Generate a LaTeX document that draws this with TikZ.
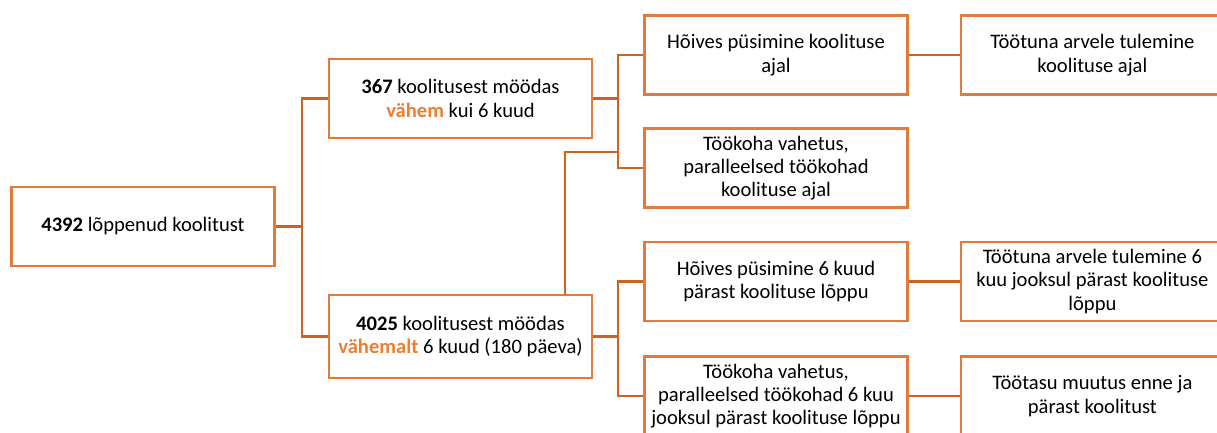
\documentclass[tikz,border=0pt]{standalone}
\usepackage{fontspec}
\setmainfont{Carlito}
\usetikzlibrary{positioning}

\definecolor{boxorange}{HTML}{E27A3B}
\definecolor{lineorange}{HTML}{CB6422}
\definecolor{wordorange}{HTML}{ED7D31}

\begin{document}
\begin{tikzpicture}[x=1pt, y=-1pt,
    box/.style={draw=boxorange, line width=2.4pt, minimum width=263pt,
        minimum height=79pt, align=center, inner sep=1pt,
        font=\fontsize{20.6}{23.3}\selectfont},
    link/.style={draw=lineorange, line width=2.6pt}]

    % Page frame (the picture is cut off at right and bottom)
    \useasboundingbox (0,0) rectangle (1217,433);
    \clip (0,0) rectangle (1217,433);

    % Root and the two duration groups
    \node[box] (root) at (143,226.5) {\textbf{4392} lõppenud koolitust};
    \node[box] (less) at (460.5,98.5) {\textbf{367} koolitusest möödas\\
        \textcolor{wordorange}{\textbf{vähem}} kui 6 kuud};
    \node[box, minimum height=83pt] (more) at (460.5,336.5) {\textbf{4025} koolitusest möödas\\
        \textcolor{wordorange}{\textbf{vähemalt}} 6 kuud (180 päeva)};

    % Third column
    \node[box] (hoiA) at (776,55) {Hõives püsimine koolituse\\ ajal};
    \node[box] (vahB) at (776,168) {Töökoha vahetus,\\ paralleelsed töökohad\\ koolituse ajal};
    \node[box] (hoiC) at (776,281.5) {Hõives püsimine 6 kuud\\ pärast koolituse lõppu};
    \node[box] (vahD) at (776,396) {Töökoha vahetus,\\ paralleelsed töökohad 6 kuu\\ jooksul pärast koolituse lõppu};

    % Fourth column
    \node[box, right=51pt of hoiA] (arvE) {Töötuna arvele tulemine\\ koolituse ajal};
    \node[box, right=51pt of hoiC] (arvF) {Töötuna arvele tulemine 6\\ kuu jooksul pärast koolituse\\ lõppu};
    \node[box, right=51pt of vahD] (tasuG) {Töötasu muutus enne ja\\ pärast koolitust};

    % Junction points of the elbow connectors
    \coordinate (j1) at (302,226.5);
    \coordinate (j2) at (618,98.5);
    \coordinate (j3) at (618,336.5);
    \coordinate (kink) at (565,152);

    % Connectors
    \draw[link] (root.east) -- (j1);
    \draw[link] (less.west) -| (j1) |- (more.west);
    \draw[link] (less.east) -- (j2);
    \draw[link] (hoiA.west) -| (j2) |- (vahB.west);
    \draw[link] (more.north -| kink) -- (kink) -- (kink -| j2);
    \draw[link] (more.east) -- (j3);
    \draw[link] (hoiC.west) -| (j3) |- (vahD.west);
    \draw[link] (hoiA.east) -- (arvE.west);
    \draw[link] (hoiC.east) -- (arvF.west);
    \draw[link] (vahD.east) -- (tasuG.west);

\end{tikzpicture}
\end{document}
